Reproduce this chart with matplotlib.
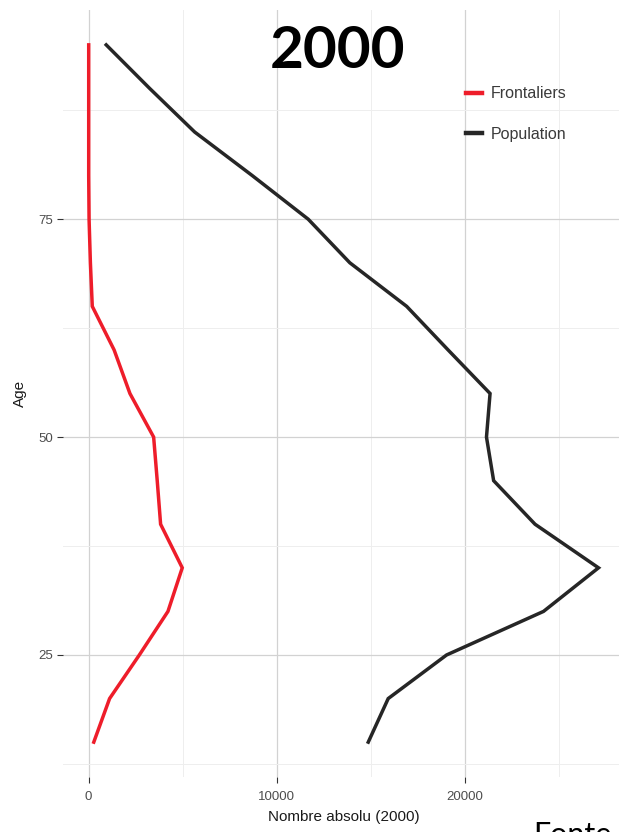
import matplotlib
matplotlib.use('Agg')
import matplotlib.pyplot as plt

# Donnees (age -> nombre absolu, 2000)
ages = [15, 20, 25, 30, 35, 40, 45, 50, 55, 60, 65, 70, 75, 80, 85, 90, 95]
frontaliers = [280, 1120, 2700, 4220, 4980, 3830, 3650, 3460, 2200, 1360, 200, 100, 30, 10, 10, 10, 10]
population = [14860, 15920, 19020, 24170, 27090, 23720, 21520, 21140, 21330, 19100, 16900, 13880,
              11670, 8700, 5640, 3250, 940]

x_ticks = [0, 10000, 20000]
y_ticks = [25, 50, 75]

plt.rcParams['font.family'] = ['Liberation Sans', 'DejaVu Sans']

W, H = 619, 832
fig = plt.figure(figsize=(W / 100, H / 100), dpi=100)

# panneau : gauche 63px, droite ~624px, haut ~10px, bas 777px
ax = fig.add_axes([63 / W, (H - 777) / H, (624 - 63) / W, (777 - 10) / H])

ax.plot(frontaliers, ages, color='#ee1d2a', lw=2.5, solid_joinstyle='miter', label='Frontaliers')
ax.plot(population, ages, color='#262626', lw=2.5, solid_joinstyle='miter', label='Population')

ax.set_xlim(-1355, 28445)
ax.set_ylim(11, 99)
ax.set_xticks(x_ticks)
ax.set_yticks(y_ticks)
ax.set_xticks([5000, 15000, 25000], minor=True)
ax.set_yticks([12.5, 37.5, 62.5, 87.5], minor=True)

ax.grid(which='major', color='#d2d2d2', lw=0.9)
ax.grid(which='minor', color='#eeeeee', lw=0.7)
ax.set_axisbelow(True)
for s in ax.spines.values():
    s.set_visible(False)

ax.tick_params(which='major', length=4, width=0.8, color='#333333', labelcolor='#4d4d4d',
               labelsize=9.5, pad=3)
ax.tick_params(axis='x', which='major', pad=6)
ax.tick_params(which='minor', length=0)

ax.set_xlabel('Nombre absolu (2000)', fontsize=11, color='#1a1a1a', labelpad=5)
ax.set_ylabel('Age', fontsize=11, color='#1a1a1a', labelpad=8)

leg = ax.legend(loc='upper left', bbox_to_anchor=(460 / W, (H - 80) / H), bbox_transform=fig.transFigure,
                frameon=False, fontsize=11.5, handlelength=1.0, handletextpad=0.5, labelspacing=1.6,
                borderaxespad=0)
for line in leg.get_lines():
    line.set_linewidth(3.2)
for t in leg.get_texts():
    t.set_color('#3a3a3a')

fig.text(338 / W, (H - 51) / H, '2000', fontsize=42, fontweight='bold', family=['Lato', 'DejaVu Sans'],
         ha='center', va='center', color='black')
fig.text(533 / W, (H - 821) / H, 'Fonte', fontsize=22, family=['Lato', 'DejaVu Sans'],
         ha='left', va='top', color='black')

fig.savefig('out.png', dpi=100)
